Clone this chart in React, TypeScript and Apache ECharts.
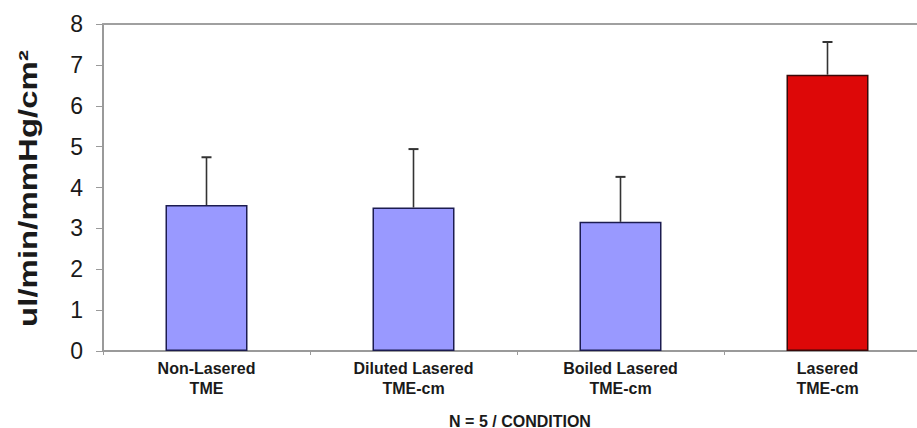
import React, { useEffect, useRef } from "react";
import * as echarts from "echarts";

const categories = ["Non-Lasered\nTME", "Diluted Lasered\nTME-cm", "Boiled Lasered\nTME-cm", "Lasered\nTME-cm"];
const means = [3.57, 3.51, 3.16, 6.76];
const upperErrors = [4.74, 4.94, 4.26, 7.56];
const barColors = ["#9999FF", "#9999FF", "#9999FF", "#DD0808"];
const borderColors = ["#1c1c50", "#1c1c50", "#1c1c50", "#3a0808"];
const yTitle = "ul/min/mmHg/cm²";
const xNote = "N = 5 / CONDITION";

export default function App() {
  const ref = useRef<HTMLDivElement>(null);
  useEffect(() => {
    if (!ref.current) return;
    const chart = echarts.init(ref.current, null, { renderer: "svg" });
    const font = "'Liberation Sans', Arial, sans-serif";
    chart.setOption({
      animation: false,
      backgroundColor: "#ffffff",
      grid: { left: 103, right: 0, top: 24, bottom: 77, containLabel: false },
      xAxis: [
        {
          type: "category",
          data: categories,
          position: "bottom",
          axisLine: { show: true, lineStyle: { color: "#9a9a9a", width: 2 } },
          axisTick: { show: true, length: 4, alignWithLabel: false, lineStyle: { color: "#9a9a9a", width: 1 } },
          axisLabel: {
            show: true,
            margin: 7,
            fontFamily: font,
            fontWeight: "bold",
            fontSize: 16,
            lineHeight: 20,
            color: "#1a1a1a",
            interval: 0,
          },
          splitLine: { show: false },
        },
        {
          type: "category",
          data: categories,
          position: "top",
          axisLine: { show: true, lineStyle: { color: "#a0a0a0", width: 2 } },
          axisTick: { show: false },
          axisLabel: { show: false },
          splitLine: { show: false },
        },
      ],
      yAxis: {
        type: "value",
        min: 0,
        max: 8,
        interval: 1,
        axisLine: { show: true, lineStyle: { color: "#9a9a9a", width: 2 } },
        axisTick: { show: true, length: 7, inside: false, lineStyle: { color: "#9a9a9a", width: 1 } },
        axisLabel: { margin: 20, fontFamily: font, fontSize: 23, color: "#1a1a1a" },
        splitLine: { show: false },
      },
      graphic: [
        {
          type: "text",
          x: 28,
          y: 188.5,
          rotation: Math.PI / 2,
          scaleX: 1.32,
          style: {
            text: yTitle,
            fontFamily: font,
            fontWeight: "bold",
            fontSize: 25,
            fill: "#1a1a1a",
            textAlign: "center",
            textVerticalAlign: "middle",
          },
        },
        {
          type: "text",
          x: 520,
          y: 421,
          style: {
            text: xNote,
            fontFamily: font,
            fontWeight: "bold",
            fontSize: 16,
            fill: "#1a1a1a",
            textAlign: "center",
            textVerticalAlign: "middle",
          },
        },
      ],
      series: [
        {
          type: "bar",
          xAxisIndex: 0,
          barWidth: 82,
          data: means.map((v, i) => ({
            value: v,
            itemStyle: { color: barColors[i], borderColor: borderColors[i], borderWidth: 1.5 },
          })),
          z: 2,
        },
        {
          type: "custom",
          xAxisIndex: 0,
          z: 3,
          data: means.map((v, i) => [i, v, upperErrors[i]]),
          renderItem: (params: any, api: any) => {
            const idx = api.value(0);
            const lo = api.coord([idx, api.value(1)]);
            const hi = api.coord([idx, api.value(2)]);
            const st = { stroke: "#333333", lineWidth: 1.6 };
            return {
              type: "group",
              children: [
                { type: "line", shape: { x1: lo[0], y1: lo[1], x2: hi[0], y2: hi[1] }, style: st },
                { type: "line", shape: { x1: hi[0] - 5, y1: hi[1], x2: hi[0] + 5, y2: hi[1] }, style: { stroke: "#333333", lineWidth: 2 } },
              ],
            };
          },
        },
      ],
    });
    return () => chart.dispose();
  }, []);
  return (
    <div style={{ position: "absolute", left: 0, top: 0, width: 917, height: 428, overflow: "hidden" }}>
      <div ref={ref} style={{ width: 931, height: 428 }} />
    </div>
  );
}
